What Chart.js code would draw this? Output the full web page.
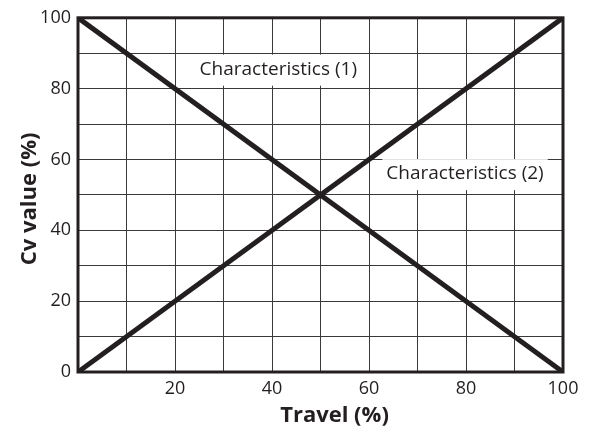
<!DOCTYPE html>
<html>
<head>
<meta charset="utf-8">
<script src="https://cdn.jsdelivr.net/npm/chart.js@4.4.1/dist/chart.umd.min.js"></script>
<style>
  html, body { margin: 0; padding: 0; background: #ffffff; }
  #wrap { width: 592px; height: 432px; }
</style>
</head>
<body>
<div id="wrap"><canvas id="c" width="592" height="432"></canvas></div>
<script>
// ---- data ----
const travel = [0, 100];
const characteristics1 = [100, 0];
const characteristics2 = [0, 100];
const tickStep = 10;
const labelEvery = 20;
const xTitle = 'Travel (%)';
const yTitle = 'Cv value (%)';
const annotationTexts = ['Characteristics (1)', 'Characteristics (2)'];
const annotationX = [41.3, 79.8];
const annotationY = [85.5, 56];

const INK = '#231f20';
const FONT = '"Open Sans", "DejaVu Sans", sans-serif';

const overlay = {
  id: 'overlay',
  afterDatasetsDraw(chart) {
    const ctx = chart.ctx;
    const xs = chart.scales.x, ys = chart.scales.y;
    const a = chart.chartArea;
    ctx.save();
    // annotation labels with white boxes
    ctx.font = '19px ' + FONT;
    ctx.textAlign = 'center';
    ctx.textBaseline = 'middle';
    annotationTexts.forEach((t, i) => {
      const px = xs.getPixelForValue(annotationX[i]);
      const py = ys.getPixelForValue(annotationY[i]);
      const w = ctx.measureText(t).width + 8;
      const h = 31;
      ctx.fillStyle = '#ffffff';
      ctx.fillRect(px - w / 2, py - h / 2 + 1, w, h);
      ctx.fillStyle = INK;
      ctx.fillText(t, px, py);
    });
    // frame
    ctx.strokeStyle = INK;
    ctx.lineWidth = 3;
    ctx.strokeRect(a.left, a.top, a.right - a.left, a.bottom - a.top);
    // axis titles
    ctx.fillStyle = INK;
    ctx.font = 'bold 22px ' + FONT;
    ctx.textAlign = 'center';
    ctx.textBaseline = 'alphabetic';
    ctx.fillText(xTitle, (a.left + a.right) / 2 + 14, 422);
    ctx.translate(36, (a.top + a.bottom) / 2 + 4);
    ctx.rotate(-Math.PI / 2);
    ctx.fillText(yTitle, 0, 0);
    ctx.restore();
  }
};

const tickCb = (v) => (v % labelEvery === 0 ? String(v) : '');

new Chart(document.getElementById('c'), {
  type: 'line',
  data: {
    datasets: [
      {
        label: 'Characteristics (1)',
        data: travel.map((x, i) => ({ x, y: characteristics1[i] })),
        borderColor: INK, borderWidth: 5, pointRadius: 0, fill: false, tension: 0
      },
      {
        label: 'Characteristics (2)',
        data: travel.map((x, i) => ({ x, y: characteristics2[i] })),
        borderColor: INK, borderWidth: 5, pointRadius: 0, fill: false, tension: 0
      }
    ]
  },
  options: {
    responsive: false,
    animation: false,
    devicePixelRatio: 1,
    layout: { padding: { top: 12, right: 29, left: 0, bottom: 0 } },
    plugins: { legend: { display: false }, tooltip: { enabled: false } },
    scales: {
      x: {
        type: 'linear', min: 0, max: 100,
        afterFit: (s) => { s.height = 60; },
        border: { display: false },
        grid: { color: '#3a3a3a', lineWidth: 1, drawTicks: false },
        ticks: {
          stepSize: tickStep, autoSkip: false, maxRotation: 0,
          padding: 6, color: INK, font: { family: FONT, size: 18 },
          callback: (v) => (v === 0 ? '' : tickCb(v))
        }
      },
      y: {
        type: 'linear', min: 0, max: 100,
        afterFit: (s) => { s.width = 78; },
        border: { display: false },
        grid: { color: '#3a3a3a', lineWidth: 1, drawTicks: false },
        ticks: {
          stepSize: tickStep, autoSkip: false,
          padding: 7, color: INK, font: { family: FONT, size: 18 },
          callback: tickCb
        }
      }
    }
  },
  plugins: [overlay]
});
</script>
</body>
</html>
